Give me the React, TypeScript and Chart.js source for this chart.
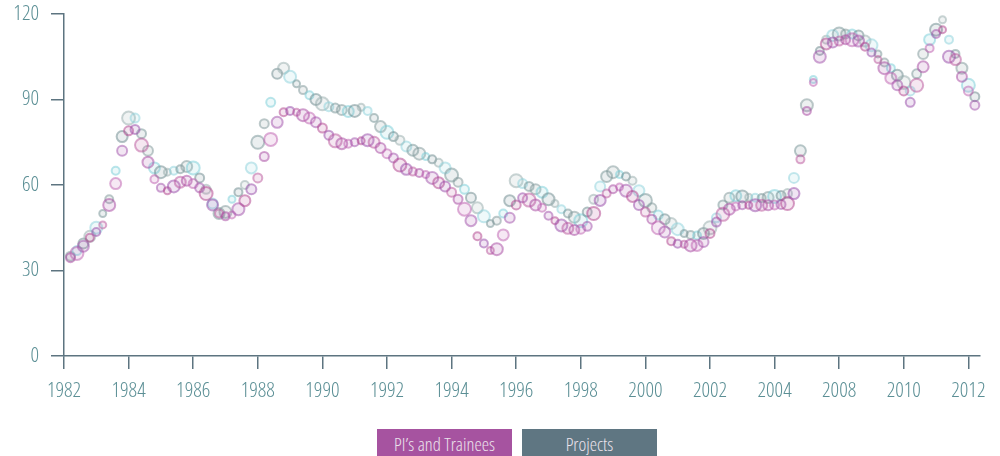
import React, { useEffect, useRef } from 'react';
import { Chart, registerables } from 'chart.js';

Chart.register(...registerables);

const xLabels = ['1982', '1984', '1986', '1988', '1990', '1992', '1994', '1996', '1998', '2000', '2002', '2004', '2008', '2010', '2012'];
const yTicks = [0, 30, 60, 90, 120];

const piValues = [
  34.5, 36, 38.5, 41.5, 43.5, 46, 53, 60.5, 72, 79,
  79.5, 74, 68, 62, 59, 58, 59.5, 61, 61.5, 60.5,
  59, 57, 53, 50, 49, 49.5, 51.5, 54.5, 58.5, 62.5,
  70, 76, 82, 85.5, 86, 85.5, 84.5, 83.5, 82, 80,
  77.5, 75.5, 74.5, 74.5, 75, 75.5, 75.7, 75, 73, 71,
  69.5, 67, 65.5, 64.7, 64.2, 63.7, 62.5, 60.8, 59.5, 57.5,
  55, 51.5, 47.5, 42, 39.5, 37, 37.5, 42.5, 48.5, 53,
  55.5, 54.7, 53, 52, 49.2, 47.5, 45.8, 44.8, 44.2, 44.5,
  45.5, 50, 54.6, 57, 58.5, 59.3, 58, 56, 53, 50.5,
  48, 45, 43.5, 40.3, 39.4, 39.2, 38.8, 38.8, 40, 43,
  47, 49.7, 51.5, 52.5, 52.9, 52.9, 52.9, 52.9, 52.9, 53,
  53.2, 53.5, 57, 69, 86, 96, 105, 109.5, 110, 110.5,
  111, 111, 110.5, 108.5, 106.5, 104, 101, 97.5, 95, 93,
  89, 95, 101.5, 108, 113, 114.5, 105, 104, 98, 93,
  88,
];

const projectValues = [
  35, 37, 39.5, 42, 45, 50, 55, 65, 77, 83.5,
  83.5, 78, 72, 66, 64.5, 64.5, 65, 65.5, 66.5, 66,
  62.5, 58.5, 53.5, 50, 50.5, 55, 57.5, 60, 66, 75,
  81.5, 89, 99, 101, 98, 95.5, 93.3, 91.5, 90, 88.5,
  87.5, 87, 86.3, 85.8, 86, 87.3, 86, 83.5, 80.5, 78.5,
  77, 75.7, 73.5, 72.2, 71, 70, 69, 67.8, 66, 63.5,
  61, 58.5, 55.5, 52, 49, 46.5, 47.5, 50, 54.5, 61.5,
  60.5, 59.5, 58.5, 57.5, 55, 53.5, 51.5, 50, 48.7, 47.5,
  50.5, 55, 59.5, 63, 64.5, 63.7, 63, 61.5, 58, 54.6,
  52, 49.5, 48, 46.5, 44.5, 43, 42.5, 42.3, 43, 45,
  48.5, 53, 55.5, 56.2, 56, 55.7, 55.5, 55.4, 55.6, 56,
  56.3, 57, 62.5, 72, 88, 97, 107, 111, 112.5, 113,
  113, 113, 112.5, 110.5, 109, 106, 103, 101, 98.5, 96,
  93, 99, 106, 111, 114.5, 118, 111, 106, 101, 95,
  91,
];

// sampling step along the tick-indexed time axis (one tick per label)
const SAMPLE_STEP = 0.1;

const FONT = "'Open Sans', 'Roboto', sans-serif";
const FONT_WEIGHT = '300 semi-condensed';
const AXIS_COLOR = '#5d7480';
const TICK_TEXT = '#5b8f95';

const piPalette = ['166,70,160', '185,85,155', '150,72,168', '176,64,140', '160,80,170', '190,95,175'];
const projPalette = ['125,150,152', '120,205,215', '105,135,140', '150,172,172', '140,210,220', '115,145,148'];
const radii = [4.5, 5.5, 4, 6.5, 5, 3.5, 5.5, 4.5, 6, 4];

export default function App() {
  const canvasRef = useRef<HTMLCanvasElement | null>(null);

  useEffect(() => {
    if (!canvasRef.current) return;
    const toPoints = (vals: number[]) => vals.map((v, i) => ({ x: (i + 1) * SAMPLE_STEP, y: v }));

    const colorFn = (pal: string[], alpha: number, mult: number) => (ctx: any) =>
      `rgba(${pal[(ctx.dataIndex * mult) % pal.length]},${alpha})`;
    const radiusFn = (mult: number) => (ctx: any) => radii[(ctx.dataIndex * mult) % radii.length];

    const chart = new Chart(canvasRef.current, {
      type: 'scatter',
      data: {
        datasets: [
          {
            label: 'PI’s and Trainees',
            data: toPoints(piValues),
            backgroundColor: colorFn(piPalette, 0.14, 5),
            borderColor: colorFn(piPalette, 0.5, 5),
            borderWidth: 2,
            pointRadius: radiusFn(3),
            clip: false,
          },
          {
            label: 'Projects',
            data: toPoints(projectValues),
            backgroundColor: colorFn(projPalette, 0.14, 7),
            borderColor: colorFn(projPalette, 0.5, 7),
            borderWidth: 2,
            pointRadius: radiusFn(7),
            clip: false,
          },
        ],
      },
      options: {
        animation: false,
        responsive: false,
        layout: { padding: { top: 14, right: 20, bottom: 0, left: 0 } },
        plugins: { legend: { display: false }, tooltip: { enabled: false } },
        scales: {
          x: {
            type: 'linear',
            min: 0,
            max: 14.18,
            afterFit: (scale: any) => { scale.height = 100; },
            ticks: {
              stepSize: 1,
              includeBounds: false,
              autoSkip: false,
              maxRotation: 0,
              padding: 9,
              color: TICK_TEXT,
              font: { family: FONT, size: 21, weight: FONT_WEIGHT as any },
              callback: (v: any) => xLabels[Math.round(Number(v))] ?? '',
            },
            grid: { drawOnChartArea: false, drawTicks: true, tickLength: 13, color: AXIS_COLOR, lineWidth: 1.5 },
            border: { color: AXIS_COLOR, width: 1.5 },
          },
          y: {
            type: 'linear',
            min: yTicks[0],
            max: yTicks[yTicks.length - 1],
            afterFit: (scale: any) => {
              scale.width = 64;
              scale.paddingTop = 0;
              scale.paddingBottom = 0;
            },
            ticks: {
              stepSize: 30,
              padding: 12,
              color: TICK_TEXT,
              font: { family: FONT, size: 21, weight: FONT_WEIGHT as any },
            },
            grid: { drawOnChartArea: false, drawTicks: true, tickLength: 13, color: AXIS_COLOR, lineWidth: 1.5 },
            border: { color: AXIS_COLOR, width: 1.5 },
          },
        },
      },
    });
    return () => chart.destroy();
  }, []);

  const boxStyle: React.CSSProperties = {
    position: 'absolute',
    top: 429,
    width: 135,
    height: 30,
    color: '#ebe2ec',
    fontFamily: FONT,
    fontWeight: 300,
    fontStretch: 'semi-condensed',
    fontSize: 18.5,
    lineHeight: '30px',
    textAlign: 'center',
  };

  return (
    <div style={{ position: 'relative', width: 1000, height: 456, overflow: 'hidden', background: '#fff' }}>
      <style>{`body{margin:0;overflow:hidden;}`}</style>
      <canvas ref={canvasRef} width={1000} height={456} style={{ display: 'block', width: 1000, height: 456 }} />
      <div style={{ ...boxStyle, left: 377, background: '#a653a0' }}>PI’s and Trainees</div>
      <div style={{ ...boxStyle, left: 522, background: '#5f7682' }}>Projects</div>
    </div>
  );
}
